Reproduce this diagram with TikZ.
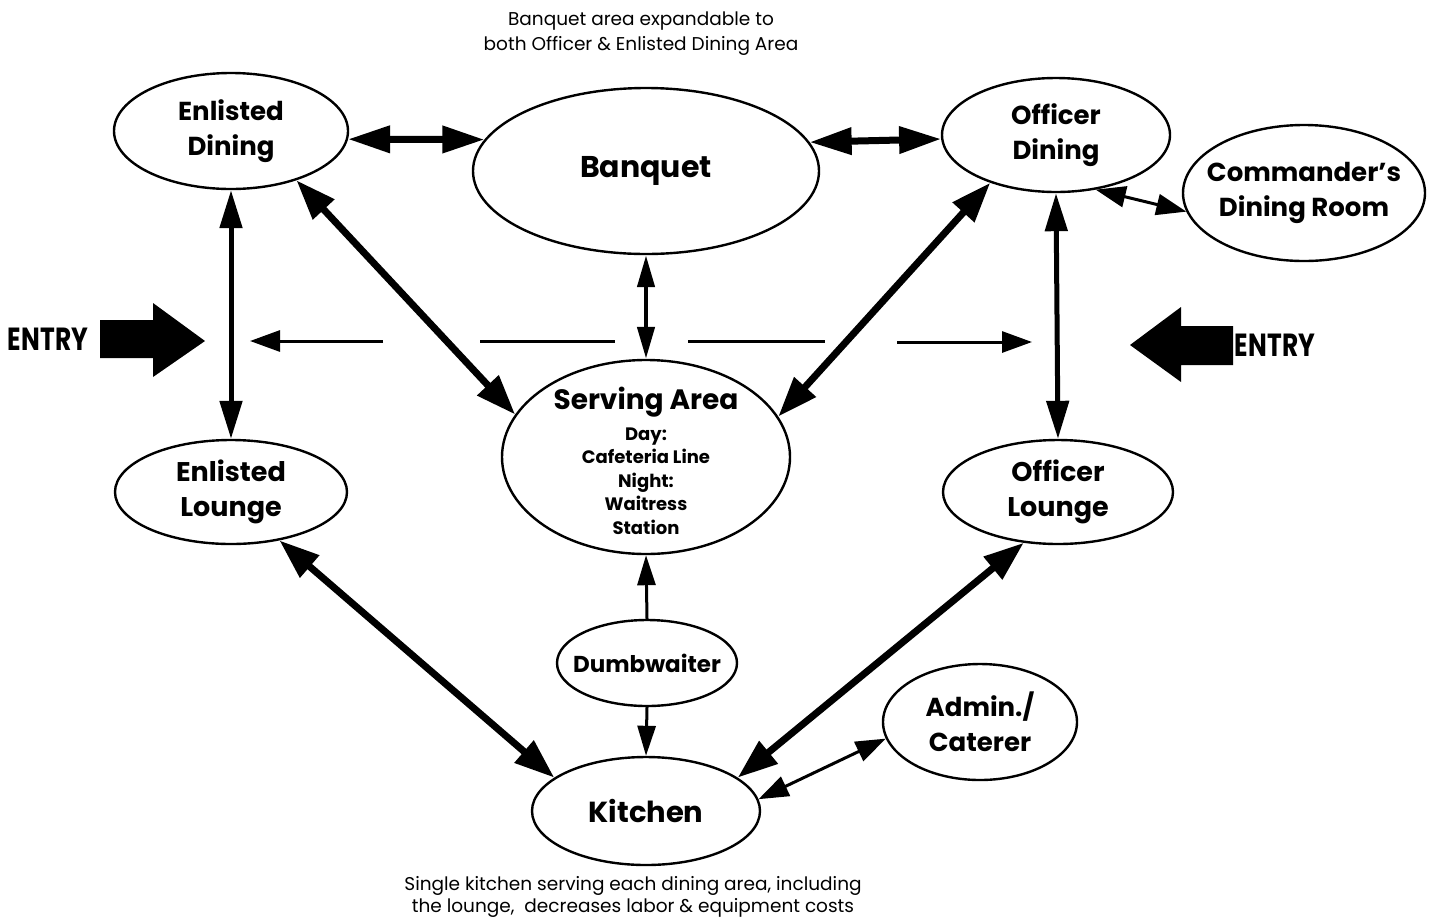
\documentclass[tikz,border=0pt]{standalone}
\usepackage{fontspec}
\setmainfont{Poppins}
\usetikzlibrary{arrows.meta,shapes.geometric}
\begin{document}
\begin{tikzpicture}[x=1pt,y=-1pt,
  room/.style={draw,ellipse,line width=2.4pt,inner sep=0pt},
  lab/.style={font=\bfseries\fontsize{#1}{35}\selectfont,align=center,inner sep=0pt},
  hbig/.style={line width=7pt,{Triangle[length=42pt,width=26pt]}-{Triangle[length=42pt,width=26pt]}},
  diag/.style={line width=7pt,{Triangle[length=40pt,width=28pt]}-{Triangle[length=40pt,width=28pt]}},
  vert/.style={line width=5pt,{Triangle[length=38pt,width=22pt]}-{Triangle[length=38pt,width=22pt]}},
  med/.style={line width=4.5pt,{Triangle[length=32pt,width=17pt]}-{Triangle[length=32pt,width=17pt]}},
  thinarr/.style={line width=3pt,{Triangle[length=30pt,width=21pt]}-{Triangle[length=30pt,width=21pt]}},
  dwa/.style={line width=3pt,-{Triangle[length=30pt,width=18pt]}},
  dashseg/.style={line width=3pt},
  dashtip/.style={line width=3pt,-{Triangle[length=30pt,width=21pt]}},
  note/.style={font=\fontsize{18.5}{25}\selectfont,align=center,inner sep=0pt},
  entry/.style={font=\bfseries\fontsize{32}{32}\selectfont,inner sep=0pt}
]
\useasboundingbox (0,0) rectangle (1432,922);

% rooms
\node[room,minimum width=234pt,minimum height=116pt,
  label={[lab=26]center:Enlisted\\Dining}] (ed) at (231,131) {};
\node[room,minimum width=346pt,minimum height=166pt,
  label={[lab=30]center:Banquet}] (bq) at (646,171) {};
\node[room,minimum width=228pt,minimum height=114pt,
  label={[lab=26]center:Officer\\Dining}] (od) at (1056,135) {};
\node[room,minimum width=242pt,minimum height=136pt,
  label={[lab=26]center:Commander’s\\Dining Room}] (cd) at (1304,193) {};
\node[room,minimum width=288pt,minimum height=194pt,
  label={[lab=28,yshift=55pt]center:Serving Area},
  label={[font=\bfseries\fontsize{18}{23.5}\selectfont,align=center,inner sep=0pt,yshift=-24pt]center:Day:\\Cafeteria Line\\Night:\\Waitress\\Station}] (sa) at (646,457) {};
\node[room,minimum width=232pt,minimum height=104pt,
  label={[lab=27]center:Enlisted\\Lounge}] (el) at (231,492) {};
\node[room,minimum width=230pt,minimum height=104pt,
  label={[lab=27]center:Officer\\Lounge}] (ol) at (1058,492) {};
\node[room,minimum width=180pt,minimum height=86pt,
  label={[lab=23]center:Dumbwaiter}] (dw) at (647,663) {};
\node[room,minimum width=194pt,minimum height=116pt,
  label={[lab=26]center:Admin./\\Caterer}] (ad) at (980,722) {};
\node[room,minimum width=228pt,minimum height=108pt,
  label={[lab=29]center:Kitchen}] (ki) at (646,811) {};

% notes
\node[note] (topnote) at (641,34) {Banquet area expandable to\\both Officer \& Enlisted Dining Area};
\node[note,font=\fontsize{18.5}{22}\selectfont] (botnote) at (633,897) {Single kitchen serving each dining area, including\\the lounge,\ \ decreases labor \& equipment costs};

% connectors
\draw[hbig] (ed.-4) -- (bq.169);
\draw[hbig] (bq.10) -- (od.182);
\draw[thinarr] (od.-54) -- (cd.189);
\draw[vert] (ed.south) -- (el.north);
\draw[vert] (od.south) -- (ol.north);
\draw[diag] (ed.-37) -- (sa.162);
\draw[diag] (od.216) -- (sa.17);
\draw[med] (bq.south) -- (sa.north);
\draw[dwa] (dw.north) -- (sa.south);
\draw[dwa] (dw.south) -- (ki.north);
\draw[diag] (el.-45) -- (ki.160);
\draw[diag] (ol.-124) -- (ki.20);
\draw[thinarr] (ki.6) -- (ad.190);

% middle dashed line with outward arrows
\coordinate (m1a) at (383,341); \coordinate (m1b) at (250,341);
\coordinate (m2a) at (480,341); \coordinate (m2b) at (615,341);
\coordinate (m3a) at (688,341); \coordinate (m3b) at (825,341);
\coordinate (m4a) at (897,342); \coordinate (m4b) at (1032,342);
\draw[dashtip] (m1a) -- (m1b);
\draw[dashseg] (m2a) -- (m2b);
\draw[dashseg] (m3a) -- (m3b);
\draw[dashtip] (m4a) -- (m4b);

% entry arrows
\fill (100,320) -- (153,320) -- (153,303) -- (205,341) -- (153,377) -- (153,358) -- (100,358) -- cycle;
\fill (1233,326) -- (1181,326) -- (1181,307) -- (1130,345) -- (1181,382) -- (1181,365) -- (1233,365) -- cycle;
\node[entry] (entl) at (48,339) {\scalebox{0.78}[1]{ENTRY}};
\node[entry] (entr) at (1275,345) {\scalebox{0.78}[1]{ENTRY}};
\end{tikzpicture}
\end{document}
